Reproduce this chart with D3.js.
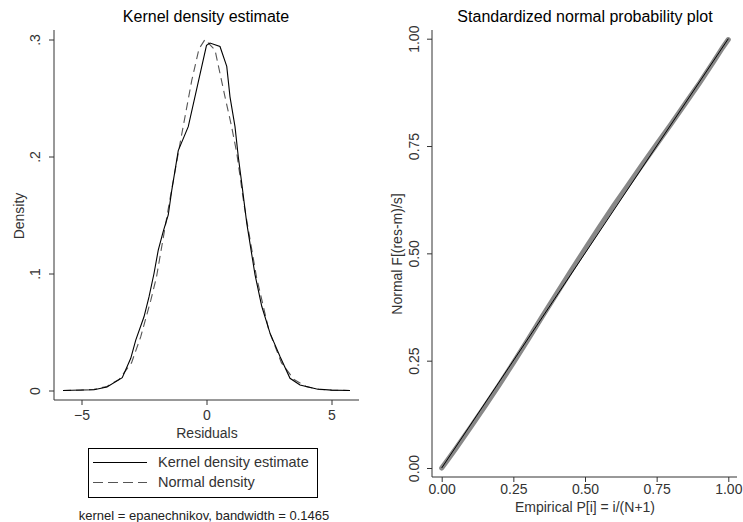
<!DOCTYPE html>
<html>
<head>
<meta charset="utf-8">
<script src="https://cdn.jsdelivr.net/npm/d3@7"></script>
<style>
  body { margin: 0; background: #fff; }
  svg text { font-family: "Liberation Sans", Arial, sans-serif; }
</style>
</head>
<body>
<svg id="chart" width="743" height="522"></svg>
<script>
// kernel density estimate of residuals
var kdeX = [-5.74, -5.0, -4.5, -3.98, -3.37, -3.03, -2.83, -2.5, -2.3, -2.1, -1.93, -1.73, -1.53, -1.39, -1.26, -1.13,
            -0.73, 0.0, 0.14, 0.54, 0.81, 0.94, 1.14, 1.27, 1.41, 1.61, 1.94, 2.21, 2.54, 2.94, 3.34, 3.74, 4.41, 5.0, 5.74];
var kdeY = [0.0, 0.0004, 0.0006, 0.003, 0.011, 0.0275, 0.043, 0.063, 0.080, 0.100, 0.120, 0.136, 0.150, 0.171, 0.188, 0.205,
            0.2255, 0.295, 0.297, 0.294, 0.277, 0.251, 0.2255, 0.200, 0.177, 0.143, 0.099, 0.072, 0.049, 0.029, 0.0104, 0.0047, 0.0013, 0.0003, 0.0];

// normal density overlay
var normX = [-5.74, -5.0, -4.5, -4.0, -3.5, -3.0, -2.63, -2.23, -2.0, -1.5, -1.06, -0.59, -0.3, -0.06, 0.34, 0.74, 1.0, 1.21, 1.5, 2.0, 2.5, 3.0, 3.5, 4.0, 4.5, 5.0, 5.74];
var normY = [0.0, 0.0003, 0.001, 0.0033, 0.0094, 0.0236, 0.046, 0.077, 0.097, 0.159, 0.211, 0.265, 0.292, 0.300, 0.291, 0.251, 0.226, 0.203, 0.159, 0.097, 0.051, 0.0236, 0.0094, 0.0033, 0.001, 0.0003, 0.0];

var kdeTicksX = [-5, 0, 5];
var kdeTicksY = [0, 0.1, 0.2, 0.3];

// standardized normal probability plot
var ppEmp = [0, 0.02, 0.05, 0.1, 0.15, 0.2, 0.25, 0.3, 0.35, 0.4, 0.45, 0.5, 0.55, 0.6, 0.65, 0.7, 0.75, 0.8, 0.85, 0.9, 0.95, 0.98, 1.0];
var ppNorm = [0.0, 0.018, 0.046, 0.094, 0.143, 0.193, 0.245, 0.298, 0.352, 0.405, 0.458, 0.51, 0.561, 0.611, 0.659, 0.707, 0.754, 0.801, 0.849, 0.897, 0.948, 0.979, 0.998];
var ppTicks = [0, 0.25, 0.5, 0.75, 1];

var svg = d3.select("#chart");
var axisCol = "#333";

function styleAxis(g) {
  g.select(".domain").attr("stroke", axisCol);
  g.selectAll(".tick line").attr("stroke", axisCol);
  g.selectAll(".tick text").attr("fill", "#333").style("font-size", "14px");
}

// ---------- left panel ----------
var x1 = d3.scaleLinear().domain([-6.1, 6.1]).range([54, 359]);
var y1 = d3.scaleLinear().domain([0, 0.3]).range([390.5, 39.5]);

var lx = svg.append("g").attr("transform", "translate(0,400)")
  .call(d3.axisBottom(x1).tickValues(kdeTicksX).tickSize(5).tickSizeOuter(0).tickPadding(5).tickFormat(d3.format("d")));
styleAxis(lx);
lx.select(".domain").attr("d", "M54,0H359");

var ly = svg.append("g").attr("transform", "translate(54,0)")
  .call(d3.axisLeft(y1).tickValues(kdeTicksY).tickSize(5).tickSizeOuter(0)
    .tickFormat(function(d) { return d === 0 ? "0" : d3.format(".1f")(d).replace(/^0/, ""); }));
styleAxis(ly);
ly.select(".domain").attr("d", "M0,30V400");
ly.selectAll(".tick text")
  .attr("x", null).attr("dy", null)
  .attr("text-anchor", "middle")
  .attr("transform", "translate(-14,0) rotate(-90)");

svg.append("text").attr("x", 206).attr("y", 22).attr("text-anchor", "middle")
  .style("font-size", "16px").text("Kernel density estimate");
svg.append("text").attr("transform", "translate(24,216) rotate(-90)").attr("text-anchor", "middle")
  .style("font-size", "14px").attr("fill", "#333").text("Density");
svg.append("text").attr("x", 207).attr("y", 438).attr("text-anchor", "middle")
  .style("font-size", "14px").attr("fill", "#333").text("Residuals");

var line1 = d3.line().x(function(d) { return x1(d[0]); }).y(function(d) { return y1(d[1]); });

svg.append("path").datum(d3.zip(normX, normY))
  .attr("fill", "none").attr("stroke", "#555").attr("stroke-width", 1.1)
  .attr("stroke-dasharray", "8,5").attr("d", line1);
svg.append("path").datum(d3.zip(kdeX, kdeY))
  .attr("fill", "none").attr("stroke", "#000").attr("stroke-width", 1.1).attr("d", line1);

// legend
var leg = svg.append("g");
leg.append("rect").attr("x", 88.5).attr("y", 448.5).attr("width", 229).attr("height", 49)
  .attr("fill", "none").attr("stroke", "#000");
leg.append("line").attr("x1", 93).attr("x2", 147).attr("y1", 462.5).attr("y2", 462.5)
  .attr("stroke", "#000");
leg.append("line").attr("x1", 93).attr("x2", 147).attr("y1", 482.5).attr("y2", 482.5)
  .attr("stroke", "#555").attr("stroke-dasharray", "10,5");
leg.append("text").attr("x", 158).attr("y", 467).style("font-size", "14.5px").attr("fill", "#333")
  .text("Kernel density estimate");
leg.append("text").attr("x", 158).attr("y", 487).style("font-size", "14.5px").attr("fill", "#333")
  .text("Normal density");
svg.append("text").attr("x", 204).attr("y", 520).attr("text-anchor", "middle")
  .style("font-size", "13px").attr("fill", "#222").text("kernel = epanechnikov, bandwidth = 0.1465");

// ---------- right panel ----------
var x2 = d3.scaleLinear().domain([0, 1]).range([441.7, 728.3]);
var y2 = d3.scaleLinear().domain([0, 1]).range([468, 38.7]);

var rx = svg.append("g").attr("transform", "translate(0,477)")
  .call(d3.axisBottom(x2).tickValues(ppTicks).tickSize(5).tickSizeOuter(0).tickPadding(2).tickFormat(d3.format(".2f")));
styleAxis(rx);
rx.select(".domain").attr("d", "M432,0H737");

var ry = svg.append("g").attr("transform", "translate(432,0)")
  .call(d3.axisLeft(y2).tickValues(ppTicks).tickSize(5).tickSizeOuter(0).tickFormat(d3.format(".2f")));
styleAxis(ry);
ry.select(".domain").attr("d", "M0,30V477");
ry.selectAll(".tick text")
  .attr("x", null).attr("dy", null)
  .attr("text-anchor", "middle")
  .attr("transform", "translate(-13,0) rotate(-90)");

svg.append("text").attr("x", 585).attr("y", 22).attr("text-anchor", "middle")
  .style("font-size", "16px").text("Standardized normal probability plot");
svg.append("text").attr("transform", "translate(402,254) rotate(-90)").attr("text-anchor", "middle")
  .style("font-size", "14px").attr("fill", "#333").text("Normal F[(res-m)/s]");
svg.append("text").attr("x", 585).attr("y", 512).attr("text-anchor", "middle")
  .style("font-size", "14px").attr("fill", "#333").text("Empirical P[i] = i/(N+1)");

var line2 = d3.line().x(function(d) { return x2(d[0]); }).y(function(d) { return y2(d[1]); });

svg.append("path").datum(d3.zip(ppEmp, ppNorm))
  .attr("fill", "none").attr("stroke", "#888").attr("stroke-width", 5)
  .attr("stroke-linecap", "round").attr("d", line2);
svg.append("path").datum([[0, 0], [1, 1]])
  .attr("fill", "none").attr("stroke", "#000").attr("stroke-width", 1).attr("d", line2);
</script>
</body>
</html>
